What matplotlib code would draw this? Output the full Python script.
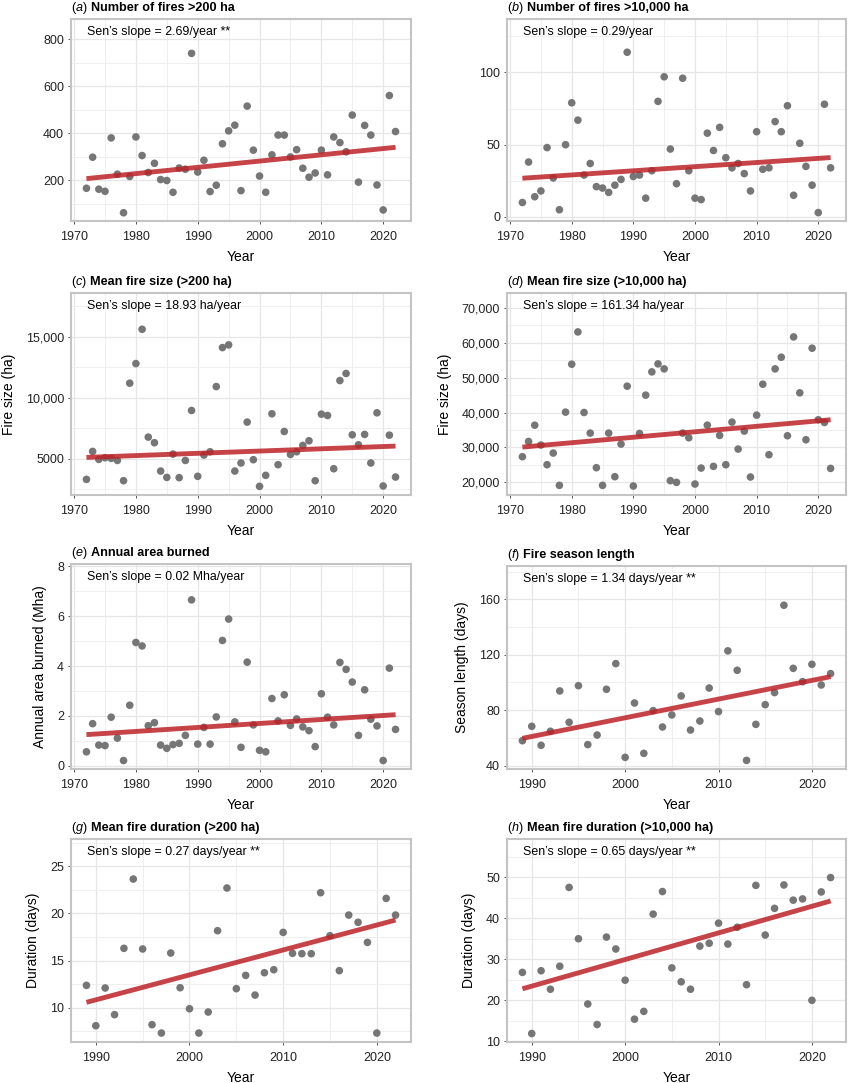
import matplotlib
matplotlib.use('Agg')
import matplotlib.pyplot as plt
from matplotlib.ticker import MultipleLocator, FuncFormatter

plt.rcParams['font.family'] = ['Liberation Sans', 'DejaVu Sans']

W, H = 848, 1083

# years
years_long = list(range(1972, 2023))
years_short = list(range(1989, 2023))

# (a) number of fires >200 ha
fires_200 = [166, 298, 162, 153, 380, 226, 62, 216, 384, 305, 233, 272, 203, 199, 149,
             252, 247, 739, 235, 285, 152, 179, 355, 410, 434, 156, 515, 328, 218, 149,
             308, 392, 392, 299, 330, 251, 213, 231, 328, 223, 384, 360, 321, 477, 192,
             433, 392, 180, 74, 560, 407]
fires_200_trend = [207, 340]

# (b) number of fires >10,000 ha
fires_10k = [10, 38, 14, 18, 48, 27, 5, 50, 79, 67, 29, 37, 21, 20, 17, 22, 26, 114, 28,
             29, 13, 32, 80, 97, 47, 23, 96, 32, 13, 12, 58, 46, 62, 41, 34, 37, 30, 18,
             59, 33, 34, 66, 59, 77, 15, 51, 35, 22, 3, 78, 34]
fires_10k_trend = [26.8, 41.1]

# (c) mean fire size >200 ha
size_200 = [3310, 5600, 4945, 5080, 5030, 4860, 3200, 11186, 12790, 15600, 6770, 6310,
            3990, 3470, 5380, 3450, 4860, 8950, 3560, 5300, 5570, 10910, 14100, 14320,
            3990, 4650, 8000, 4920, 2740, 3640, 8680, 4510, 7230, 5350, 5570, 6090, 6470,
            3200, 8650, 8540, 4180, 11400, 11980, 6960, 6140, 6990, 4650, 8760, 2770,
            6930, 3500]
size_200_trend = [5110, 6035]

# (d) mean fire size >10,000 ha
size_10k = [27350, 31720, 36390, 30700, 25060, 28400, 19140, 40130, 53870, 63120, 40030,
            34120, 24200, 19140, 34120, 21620, 30970, 47570, 18950, 34020, 45000, 51670,
            53960, 52530, 20480, 20000, 34120, 32780, 19520, 24100, 36410, 24580, 33450,
            25060, 37270, 29540, 34690, 21530, 39270, 48140, 27920, 52530, 55870, 33360,
            61690, 45660, 32210, 58450, 37940, 37170, 24000]
size_10k_trend = [30110, 37940]

# (e) annual area burned (Mha)
area_burned = [0.56, 1.69, 0.83, 0.81, 1.95, 1.11, 0.21, 2.43, 4.95, 4.81, 1.61, 1.73,
               0.83, 0.70, 0.85, 0.90, 1.22, 6.66, 0.87, 1.54, 0.87, 1.96, 5.03, 5.89,
               1.76, 0.74, 4.16, 1.64, 0.62, 0.56, 2.70, 1.80, 2.85, 1.62, 1.88, 1.56,
               1.41, 0.77, 2.89, 1.95, 1.64, 4.15, 3.87, 3.36, 1.22, 3.05, 1.87, 1.60,
               0.21, 3.92, 1.46]
area_trend = [1.25, 2.05]

# (f) fire season length (days)
season_len = [58, 68.4, 54.7, 64.8, 93.9, 71.3, 97.7, 55.2, 62.1, 95.1, 113.6, 46, 85.2,
              48.9, 79.7, 67.9, 76.6, 90.3, 65.7, 72.2, 96, 79, 122.8, 108.8, 43.8, 69.8,
              84, 92.7, 155.7, 110.2, 100.6, 113.1, 98.2, 106.4]
season_trend = [59.7, 104.2]

# (g) mean fire duration >200 ha (days)
dur_200 = [12.37, 8.09, 12.09, 9.26, 16.3, 23.65, 16.23, 8.2, 7.31, 15.8, 12.12, 9.89,
           7.31, 9.54, 18.17, 22.7, 12.02, 13.43, 11.34, 13.71, 14.03, 17.99, 15.77,
           15.73, 15.73, 22.2, 17.64, 13.93, 19.83, 19.06, 16.93, 7.31, 21.6, 19.83]
dur_200_trend = [10.57, 19.3]

# (h) mean fire duration >10,000 ha (days)
dur_10k = [26.8, 11.9, 27.2, 22.7, 28.3, 47.5, 35, 19.1, 14.1, 35.4, 32.5, 24.9, 15.4,
           17.3, 41, 46.5, 27.9, 24.5, 22.7, 33.2, 33.9, 38.8, 33.7, 37.8, 23.8, 48, 35.9,
           42.4, 48.1, 44.4, 44.7, 20, 46.4, 49.9]
dur_10k_trend = [22.8, 44.2]

POINT_COLOR = '#767676'
LINE_COLOR = '#bc2328'
GRID_COLOR = '#e6e6e6'
BORDER_COLOR = '#c4c4c4'


def px_rect(x0, y0, x1, y1):
    return [x0 / W, 1 - y1 / H, (x1 - x0) / W, (y1 - y0) / H]


def thousands(v, pos):
    if abs(v) >= 10000:
        return f'{v:,.0f}'
    return f'{v:g}'


def draw_panel(fig, rect, years, values, trend, letter, title, slope_text, ylabel,
               ylim, ymajor, yminor, xlim):
    ax = fig.add_axes(px_rect(*rect))
    ax.set_facecolor('white')

    ax.scatter(years, values, s=30, color=POINT_COLOR, edgecolors='none', zorder=3)
    ax.plot([years[0], years[-1]], trend, color=LINE_COLOR, lw=3.5, alpha=0.85,
            solid_capstyle='butt', zorder=4)

    ax.set_xlim(xlim)
    ax.set_ylim(ylim)
    ax.xaxis.set_major_locator(MultipleLocator(10))
    ax.xaxis.set_minor_locator(MultipleLocator(5))
    ax.yaxis.set_major_locator(MultipleLocator(ymajor))
    ax.yaxis.set_minor_locator(MultipleLocator(yminor))
    ax.yaxis.set_major_formatter(FuncFormatter(thousands))

    ax.grid(which='major', color=GRID_COLOR, lw=0.9, zorder=0)
    ax.grid(which='minor', color='#efefef', lw=0.7, zorder=0)
    ax.set_axisbelow(True)

    for sp in ax.spines.values():
        sp.set_color(BORDER_COLOR)
        sp.set_linewidth(1.5)

    ax.tick_params(which='major', length=2.5, width=0.7, color='#555555',
                   labelsize=9, labelcolor='#222222', pad=2.5)
    ax.tick_params(axis='x', which='major', pad=4.5)
    ax.tick_params(which='minor', length=0)

    ax.annotate('Year', xy=(0.5, 0), xycoords='axes fraction', xytext=(0, -26),
                textcoords='offset points', ha='center', va='center', fontsize=10)
    if ylabel:
        ax.set_ylabel(ylabel, fontsize=10, labelpad=7)

    ax.annotate(slope_text, xy=(0, 1), xycoords='axes fraction', xytext=(11.5, -9.4),
                textcoords='offset points', ha='left', va='center', fontsize=8.9)

    # panel title: "(x) Bold title"
    t1 = ax.annotate('(', xy=(0, 1), xycoords='axes fraction', xytext=(0.5, 3.6),
                     textcoords='offset points', ha='left', va='bottom', fontsize=9.1)
    t2 = ax.annotate(letter, xy=(1, 0), xycoords=t1, ha='left', va='bottom',
                     fontsize=9.1, style='italic')
    t3 = ax.annotate(') ', xy=(1, 0), xycoords=t2, ha='left', va='bottom', fontsize=9.1)
    ax.annotate(title, xy=(1, 0), xycoords=t3, ha='left', va='bottom', fontsize=9.1,
                weight='bold')
    return ax


fig = plt.figure(figsize=(W / 100, H / 100), dpi=100)

xl_long = (1969.5, 2024.5)
xl_short = (1987.35, 2023.65)

draw_panel(fig, (71, 19, 411, 221), years_long, fires_200, fires_200_trend, 'a',
           'Number of fires >200 ha', 'Sen’s slope = 2.69/year **', None,
           (27, 885), 200, 100, xl_long)
draw_panel(fig, (507, 19, 846, 221), years_long, fires_10k, fires_10k_trend, 'b',
           'Number of fires >10,000 ha', 'Sen’s slope = 0.29/year', None,
           (-2.8, 137), 50, 25, xl_long)
draw_panel(fig, (71, 293, 411, 495), years_long, size_200, size_200_trend, 'c',
           'Mean fire size (>200 ha)', 'Sen’s slope = 18.93 ha/year', 'Fire size (ha)',
           (2030, 18570), 5000, 2500, xl_long)
draw_panel(fig, (507, 293, 846, 495), years_long, size_10k, size_10k_trend, 'd',
           'Mean fire size (>10,000 ha)', 'Sen’s slope = 161.34 ha/year', 'Fire size (ha)',
           (16375, 74280), 10000, 5000, xl_long)
draw_panel(fig, (71, 564, 411, 769), years_long, area_burned, area_trend, 'e',
           'Annual area burned', 'Sen’s slope = 0.02 Mha/year', 'Annual area burned (Mha)',
           (-0.13, 8.1), 2, 1, xl_long)
draw_panel(fig, (507, 566, 846, 769), years_short, season_len, season_trend, 'f',
           'Fire season length', 'Sen’s slope = 1.34 days/year **', 'Season length (days)',
           (37.6, 184), 40, 20, xl_short)
draw_panel(fig, (71, 839, 411, 1042), years_short, dur_200, dur_200_trend, 'g',
           'Mean fire duration (>200 ha)', 'Sen’s slope = 0.27 days/year **', 'Duration (days)',
           (6.36, 27.9), 5, 2.5, xl_short)
draw_panel(fig, (507, 839, 846, 1042), years_short, dur_10k, dur_10k_trend, 'h',
           'Mean fire duration (>10,000 ha)', 'Sen’s slope = 0.65 days/year **', 'Duration (days)',
           (9.84, 59.3), 10, 5, xl_short)

fig.savefig('out.png', dpi=100, facecolor='white')
